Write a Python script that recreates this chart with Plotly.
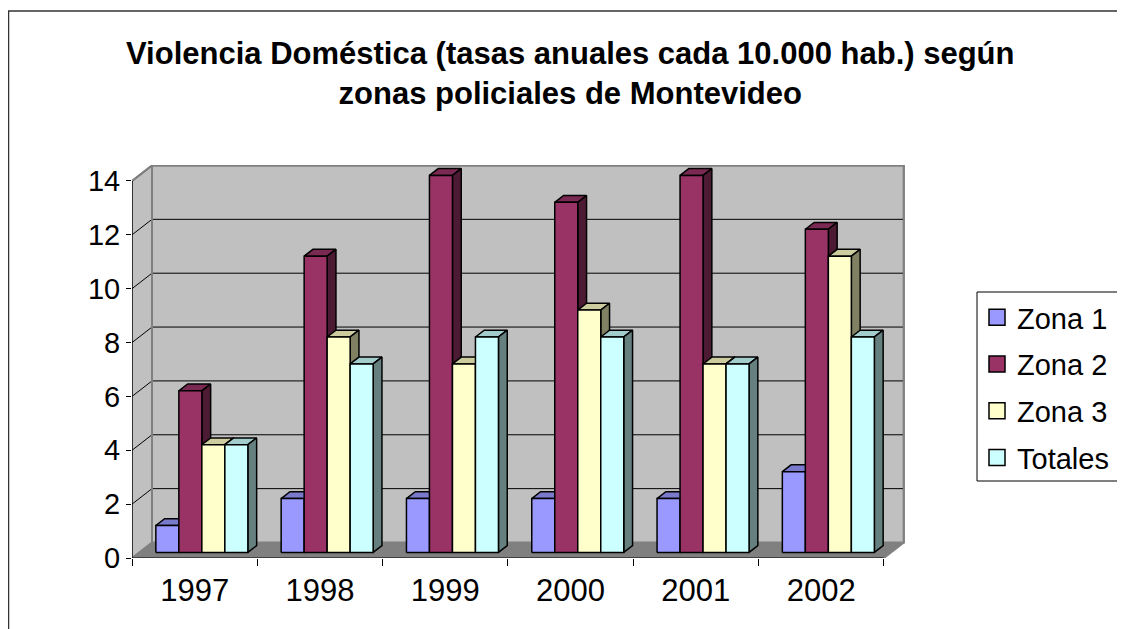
import plotly.graph_objects as go

# ---- data ----
years = ["1997", "1998", "1999", "2000", "2001", "2002"]
zona1 = [1, 2, 2, 2, 2, 3]
zona2 = [6, 11, 14, 13, 14, 12]
zona3 = [4, 8, 7, 9, 7, 11]
totales = [4, 7, 8, 8, 7, 8]
series_names = ["Zona 1", "Zona 2", "Zona 3", "Totales"]
y_ticks = [0, 2, 4, 6, 8, 10, 12, 14]

# colors: front, top, side
colors = [
    ("#9999FF", "#7A7ACC", "#4D4D80"),
    ("#993366", "#7A2952", "#4D1A33"),
    ("#FFFFCC", "#CCCC9F", "#808062"),
    ("#CCFFFF", "#A3CCCC", "#668080"),
]
series_vals = [zona1, zona2, zona3, totales]

# ---- geometry (pixel layout, screen coords; page has 8px body margin) ----
OFF = 8
W, H = 1125 - OFF, 629 - OFF
L, R, T, B = 132 - OFF, 906 - OFF, 165 - OFF, 558 - OFF
px_per_x = 125.3
px_per_y = 26.93
x_range = [-0.5, -0.5 + (R - L) / px_per_x]
y_range = [0, (B - T) / px_per_y]
DX = 20 / px_per_x      # depth offset in x units
DY = 15.5 / px_per_y    # depth offset in y units
f_depth, b_depth = 0.36, 0.80
bw = 23 / px_per_x
ymax = 14
n = len(years)
FONT = "Liberation Sans, Arial, sans-serif"


def px2paper_x(p):
    return (p - OFF - L) / (R - L)


def px2paper_y(p):
    return (B - (p - OFF)) / (B - T)


fig = go.Figure()

# ---- walls and floor ----
x0, x1 = -0.5, n - 0.5
fig.add_trace(go.Scatter(
    x=[x0, x1, x1 + DX, x0 + DX, x0], y=[0, 0, DY, DY, 0],
    fill="toself", fillcolor="#808080", mode="lines",
    line=dict(color="#808080", width=1), showlegend=False, hoverinfo="skip"))
fig.add_trace(go.Scatter(
    x=[x0, x0, x0 + DX, x0 + DX, x0], y=[0, ymax, ymax + DY, DY, 0],
    fill="toself", fillcolor="#C0C0C0", mode="lines",
    line=dict(color="#808080", width=2), showlegend=False, hoverinfo="skip"))
fig.add_trace(go.Scatter(
    x=[x0 + DX, x1 + DX, x1 + DX, x0 + DX, x0 + DX],
    y=[DY, DY, ymax + DY, ymax + DY, DY],
    fill="toself", fillcolor="#C0C0C0", mode="lines",
    line=dict(color="#808080", width=2), showlegend=False, hoverinfo="skip"))
gx, gy = [], []
for k in y_ticks[1:]:
    gx += [x0, x0 + DX, x1 + DX, None]
    gy += [k, k + DY, k + DY, None]
fig.add_trace(go.Scatter(x=gx, y=gy, mode="lines",
                         line=dict(color="black", width=1),
                         showlegend=False, hoverinfo="skip"))
fig.add_trace(go.Scatter(
    x=[x0, x0 + DX, x1 + DX, x1 + DX, x1],
    y=[ymax, ymax + DY, ymax + DY, DY, 0],
    mode="lines", line=dict(color="#808080", width=2),
    showlegend=False, hoverinfo="skip"))
fig.add_trace(go.Scatter(
    x=[x0 + DX, x0 + DX], y=[DY, ymax + DY],
    mode="lines", line=dict(color="#808080", width=2),
    showlegend=False, hoverinfo="skip"))

# ---- bars ----
fo_x, fo_y = f_depth * DX, f_depth * DY
dd_x, dd_y = (b_depth - f_depth) * DX, (b_depth - f_depth) * DY
for s, vals in enumerate(series_vals):
    front_c, top_c, side_c = colors[s]
    tx, ty, sx, sy, fx, fy = [], [], [], [], [], []
    for i, v in enumerate(vals):
        c = i + fo_x + (s - 1.5) * bw
        xl, xr = c - bw / 2, c + bw / 2
        yb, yt = fo_y, v + fo_y
        tx += [xl, xr, xr + dd_x, xl + dd_x, xl, None]
        ty += [yt, yt, yt + dd_y, yt + dd_y, yt, None]
        sx += [xr, xr + dd_x, xr + dd_x, xr, xr, None]
        sy += [yb, yb + dd_y, yt + dd_y, yt, yb, None]
        fx += [xl, xr, xr, xl, xl, None]
        fy += [yb, yb, yt, yt, yb, None]
    for xs, ys, col in ((tx, ty, top_c), (sx, sy, side_c), (fx, fy, front_c)):
        fig.add_trace(go.Scatter(
            x=xs, y=ys, fill="toself", fillcolor=col, mode="lines",
            line=dict(color="black", width=1.5),
            showlegend=False, hoverinfo="skip"))

# axis lines
fig.add_trace(go.Scatter(x=[x0, x0], y=[0, ymax], mode="lines",
                         line=dict(color="black", width=1.2),
                         showlegend=False, hoverinfo="skip"))
fig.add_trace(go.Scatter(x=[x0, x1], y=[0, 0], mode="lines",
                         line=dict(color="black", width=1.2),
                         showlegend=False, hoverinfo="skip"))

# legend entries
for s, name in enumerate(series_names):
    fig.add_trace(go.Scatter(
        x=[None], y=[None], mode="markers", name=name,
        legendgroup=name,
        marker=dict(symbol="square", size=16, color=colors[s][0],
                    line=dict(color="black", width=1.5))))

fig.update_layout(
    width=W, height=H,
    margin=dict(l=L, r=W - R, t=T, b=H - B, autoexpand=False),
    paper_bgcolor="white", plot_bgcolor="white",
    font=dict(family=FONT, color="black"),
    hovermode=False,
    showlegend=True,
    legend=dict(
        x=px2paper_x(977), y=px2paper_y(292), xanchor="left", yanchor="top",
        font=dict(size=29, family=FONT, color="black"),
        bgcolor="rgba(0,0,0,0)", borderwidth=0,
        tracegroupgap=6, itemsizing="trace",
    ),
    xaxis=dict(
        range=x_range, showgrid=False, zeroline=False, showline=False,
        tickmode="array", tickvals=list(range(n)), ticktext=years,
        ticks="", tickfont=dict(size=31, family=FONT, color="black"),
        ticklabelstandoff=11,
        minor=dict(tickmode="array", tickvals=[i - 0.5 for i in range(n + 1)],
                   ticks="outside", ticklen=7, tickcolor="black", tickwidth=1,
                   showgrid=False),
        fixedrange=True,
    ),
    yaxis=dict(
        range=y_range, showgrid=False, zeroline=False, showline=False,
        tickmode="array", tickvals=y_ticks, ticktext=[str(t) for t in y_ticks],
        ticks="outside", ticklen=5, tickcolor="black", tickwidth=1,
        tickfont=dict(size=29, family=FONT, color="black"),
        fixedrange=True,
    ),
    annotations=[dict(
        text="<b>Violencia Doméstica (tasas anuales cada 10.000 hab.) según<br>zonas policiales de Montevideo</b>",
        xref="paper", yref="paper", x=px2paper_x(570), y=px2paper_y(73.5),
        xanchor="center", yanchor="middle", showarrow=False,
        font=dict(size=31, family=FONT, color="black"),
    )],
    shapes=[
        dict(type="rect", xref="paper", yref="paper",
             x0=px2paper_x(8.5), x1=px2paper_x(1140),
             y0=px2paper_y(645), y1=px2paper_y(11),
             line=dict(color="#333333", width=1.5), fillcolor="rgba(0,0,0,0)",
             layer="above"),
        # legend frame (continues past the right edge, as in the reference)
        dict(type="rect", xref="paper", yref="paper",
             x0=px2paper_x(977), x1=px2paper_x(1140),
             y0=px2paper_y(481), y1=px2paper_y(292),
             line=dict(color="black", width=1), fillcolor="white",
             layer="below"),
    ],
)

fig.write_html("out.html", config={"displayModeBar": False, "staticPlot": True})
